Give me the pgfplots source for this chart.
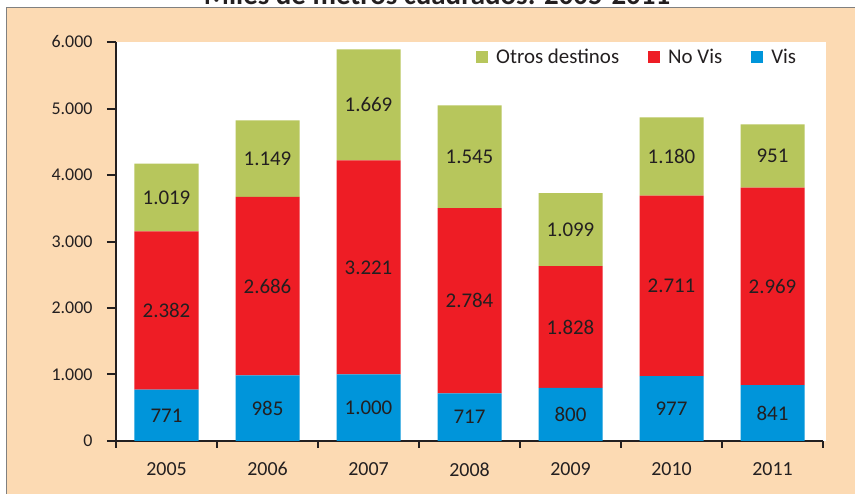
\documentclass[border=0pt]{standalone}
\usepackage{pgfplots}
\pgfplotsset{compat=1.18}
\usepackage{pgfplotstable}
\usepackage{fontspec}
\setmainfont{Carlito}
\definecolor{cgreen}{HTML}{B7C65C}
\definecolor{cred}{HTML}{EE1D25}
\definecolor{cblue}{HTML}{0095DA}
\definecolor{cpeach}{HTML}{FCDAB3}
\definecolor{ctext}{HTML}{231F20}
\definecolor{cframe}{HTML}{808080}

\pgfplotstableread{
x vis novis otros
0 771 2382 1019
1 985 2686 1149
2 1000 3221 1669
3 717 2784 1545
4 800 1828 1099
5 977 2711 1180
6 841 2969 951
}\datatable

\pgfplotstableread{
x y label
0 385.5 771
1 492.5 985
2 500 1.000
3 358.5 717
4 400 800
5 488.5 977
6 420.5 841
0 1962 2.382
1 2328 2.686
2 2610.5 3.221
3 2109 2.784
4 1714 1.828
5 2332.5 2.711
6 2325.5 2.969
0 3662.5 1.019
1 4245.5 1.149
2 5055.5 1.669
3 4273.5 1.545
4 3177.5 1.099
5 4278 1.180
6 4285.5 951
}\labeltable

\begin{document}
\begin{tikzpicture}
\useasboundingbox (0,0) rectangle (855bp,494bp);
\node[anchor=base, font=\bfseries\fontsize{29}{32}\selectfont, text=ctext] at (437bp,489bp) {Miles de metros cuadrados. 2005-2011};
\filldraw[fill=cpeach, draw=cframe, line width=1.2bp] (6.5bp,-10bp) rectangle (870bp,486.5bp);
\fill[white] (117bp,53bp) rectangle (826bp,452bp);
\begin{axis}[
  at={(116bp,53bp)}, anchor=south west,
  scale only axis, width=707bp, height=399bp,
  xmin=-0.5, xmax=6.5, ymin=0, ymax=6000,
  ybar stacked, bar width=64bp,
  axis x line*=bottom, axis y line*=left,
  axis line style={line width=2.2bp, ctext, -},
  xtick={0,...,6},
  xticklabels={2005,2006,2007,2008,2009,2010,2011},
  minor xtick={-0.5,0.5,...,6.5},
  major x tick style={draw=none},
  minor x tick style={line width=2bp, ctext},
  minor tick length=7bp,
  ytick={0,1000,...,6000},
  major y tick style={line width=2bp, ctext},
  major tick length=9bp,
  tick align=outside,
  /pgf/number format/assume math mode=true,
  /pgf/number format/1000 sep={.},
  yticklabel style={font=\fontsize{18}{20}\selectfont, text=ctext, xshift=-11bp},
  xticklabel style={font=\fontsize{20}{22}\selectfont, text=ctext, yshift=-9bp},
  reverse legend,
  legend columns=3,
  legend style={at={(0.505,0.962)}, anchor=west, draw=none, fill=none,
    font=\fontsize{21}{24}\selectfont, text=ctext,
    nodes={inner sep=2bp},
    /tikz/every odd column/.append style={column sep=6bp},
    /tikz/every even column/.append style={column sep=27bp}},
  legend image code/.code={\path[#1, draw=none] (0bp,-6bp) rectangle (12bp,6bp);},
]
\addplot[fill=cblue, draw=none] table[x=x, y=vis] {\datatable};
\addlegendentry{Vis}
\addplot[fill=cred, draw=none] table[x=x, y=novis] {\datatable};
\addlegendentry{No Vis}
\addplot[fill=cgreen, draw=none] table[x=x, y=otros] {\datatable};
\addlegendentry{Otros destinos}
\end{axis}
\begin{axis}[
  at={(116bp,53bp)}, anchor=south west,
  scale only axis, width=707bp, height=399bp,
  xmin=-0.5, xmax=6.5, ymin=0, ymax=6000,
  hide axis,
]
\addplot[only marks, mark=none,
  nodes near coords, point meta=explicit symbolic,
  every node near coord/.append style={anchor=center, font=\fontsize{21}{24}\selectfont, text=ctext}]
  table[x=x, y=y, meta=label] {\labeltable};
\end{axis}
\end{tikzpicture}
\end{document}
